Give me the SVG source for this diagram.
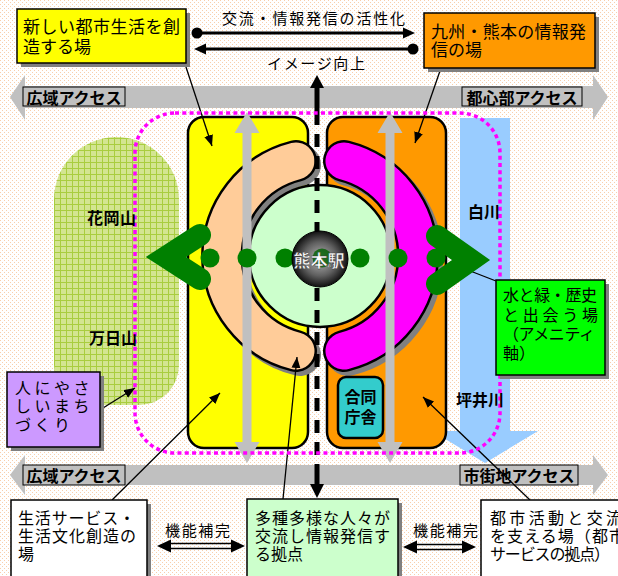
<svg xmlns="http://www.w3.org/2000/svg" width="618" height="576" viewBox="0 0 618 576">
<defs>
<pattern id="bg" width="4" height="4" patternUnits="userSpaceOnUse"><rect width="4" height="4" fill="#ffffff"/><rect x="0" y="0" width="1" height="1" fill="#f8cfac"/><rect x="2" y="2" width="1" height="1" fill="#f8cfac"/></pattern>
<pattern id="grid" width="6" height="6" patternUnits="userSpaceOnUse"><rect width="6" height="6" fill="#d3e591"/><path d="M0,0.5 H6 M0.5,0 V6" stroke="#a9cd3f" stroke-width="1"/></pattern>
<radialGradient id="dark" cx="50%" cy="50%" r="50%"><stop offset="0" stop-color="#b8b8b8"/><stop offset="0.6" stop-color="#606060"/><stop offset="1" stop-color="#101010"/></radialGradient>
<marker id="ah" markerWidth="12" markerHeight="10" refX="11" refY="4.5" orient="auto" markerUnits="userSpaceOnUse"><path d="M0,0 L11,4.5 L0,9 Z" fill="#000"/></marker>
</defs>
<style>
text{font-family:"Noto Sans CJK JP","Noto Sans CJK SC",sans-serif;dominant-baseline:central;fill:#000}
.box{stroke:#000;stroke-width:1.5}
.sh{fill:#808080}
.t16{font-size:16px}
.t17{font-size:17px}
.b{font-weight:bold}
.lead{stroke:#000;stroke-width:1.3;fill:none;marker-end:url(#ah)}
.band{fill:#c0c0c0}
.blab{fill:#c0c0c0;stroke:#000;stroke-width:1}
.gar{fill:#c0c0c0}
.out{fill:none;stroke:#000;stroke-width:42;stroke-linecap:round}
.shd{fill:none;stroke:#808080;stroke-width:42;stroke-linecap:round}
.dot{fill:#008000}
</style>
<rect width="618" height="576" fill="url(#bg)"/>

<g id="bands">
<path class="band" d="M10,97 L25,75 L25,86 L593,86 L593,75 L608,97 L593,120 L593,108 L25,108 L25,120 Z"/>
<path class="band" d="M10,475 L25,455 L25,465 L593,465 L593,455 L608,475 L593,495 L593,485 L25,485 L25,495 Z"/>
</g>
<g id="band-labels">
<rect class="blab" x="23" y="87" width="102" height="19"/>
<text class="t16 b" x="74" y="96.5" text-anchor="middle">広域アクセス</text>
<rect class="blab" x="462" y="87" width="120" height="19"/>
<text class="t16 b" x="522" y="96.5" text-anchor="middle">都心部アクセス</text>
<rect class="blab" x="23" y="465" width="102" height="20"/>
<text class="t16 b" x="74" y="475" text-anchor="middle">広域アクセス</text>
<rect class="blab" x="460" y="465" width="118" height="20"/>
<text class="t16 b" x="519" y="475" text-anchor="middle">市街地アクセス</text>
</g>

<g id="hill">
<path d="M54,199.5 A62.5,62.5 0 0 1 179,199.5 L179,365 A40,40 0 0 1 139,405 L94,405 A40,40 0 0 1 54,365 Z" fill="url(#grid)"/>
</g>
<g id="river">
<path d="M460,118 H510 V431 H538 L485,463 L432,431 H460 Z" fill="#99ccff"/>
</g>

<g id="yellow-block">
<rect x="188" y="117" width="120" height="331" rx="16" fill="#ffff00" stroke="#000" stroke-width="2.5"/>
</g>
<g id="orange-block">
<rect x="327" y="117" width="119" height="331" rx="16" fill="#ff9900" stroke="#000" stroke-width="2.5"/>
</g>

<g id="peach-band">
<path class="shd" d="M300,165 A98,98 0 0 0 300,355"/>
<path class="out" d="M296,161 A98,98 0 0 0 296,351"/>
<path d="M296,161 A98,98 0 0 0 296,351" fill="none" stroke="#ffcc99" stroke-width="37" stroke-linecap="round"/>
</g>
<g id="magenta-band">
<path class="shd" d="M348,165 A98,98 0 0 1 348,355"/>
<path class="out" d="M344,161 A98,98 0 0 1 344,351"/>
<path d="M344,161 A98,98 0 0 1 344,351" fill="none" stroke="#ff00ff" stroke-width="37" stroke-linecap="round"/>
</g>

<g id="plaza">
<circle cx="320" cy="256" r="71" fill="#ccffcc" stroke="#000" stroke-width="2.5"/>
</g>

<g id="connectors">
<path d="M317,75 L324,88 L310,88 Z" fill="#000"/>
<line x1="317" y1="87" x2="317" y2="112" stroke="#000" stroke-width="5"/>
<line x1="317" y1="112" x2="317" y2="470" stroke="#000" stroke-width="5" stroke-dasharray="13 9"/>
<line x1="317" y1="470" x2="317" y2="485" stroke="#000" stroke-width="5"/>
<path d="M317,498 L324,484 L310,484 Z" fill="#000"/>

<line x1="197" y1="33" x2="405" y2="33" stroke="#000" stroke-width="3"/>
<circle cx="197" cy="33" r="5.5" fill="#000"/>
<path d="M415,33 L403,27.5 L403,38.5 Z" fill="#000"/>
<line x1="205" y1="49" x2="413" y2="49" stroke="#000" stroke-width="3"/>
<circle cx="413" cy="49" r="5.5" fill="#000"/>
<path d="M194,49 L206,43.5 L206,54.5 Z" fill="#000"/>

<line class="lead" x1="185" y1="64" x2="212" y2="146"/>
<line class="lead" x1="441" y1="68" x2="415" y2="143"/>
<line class="lead" x1="103" y1="408" x2="135" y2="388"/>
<line class="lead" x1="112" y1="500" x2="220" y2="393"/>
<line class="lead" x1="283" y1="499" x2="297" y2="357"/>
<line class="lead" x1="530" y1="500" x2="423" y2="397"/>
<line class="lead" x1="496" y1="281" x2="460" y2="267"/>

<g id="dbl-left">
<line x1="168" y1="543.5" x2="234" y2="543.5" stroke="#000" stroke-width="1.6"/>
<line x1="168" y1="548.5" x2="234" y2="548.5" stroke="#000" stroke-width="1.6"/>
<path d="M157,546 L171,539.5 L171,552.5 Z" fill="#000"/>
<path d="M245,546 L231,539.5 L231,552.5 Z" fill="#000"/>
</g>
<g id="dbl-right">
<line x1="414" y1="544.5" x2="465" y2="544.5" stroke="#000" stroke-width="1.6"/>
<line x1="414" y1="549.5" x2="465" y2="549.5" stroke="#000" stroke-width="1.6"/>
<path d="M403,547 L417,540.5 L417,553.5 Z" fill="#000"/>
<path d="M476,547 L462,540.5 L462,553.5 Z" fill="#000"/>
</g>
</g>

<g id="access-arrows">
<path class="gar" d="M247,112 L259.5,133 L251.5,133 L251.5,442 L259.5,442 L247,463 L234.5,442 L242.5,442 L242.5,133 L234.5,133 Z"/>
<path class="gar" d="M390,112 L402.5,133 L394.5,133 L394.5,442 L402.5,442 L390,463 L377.5,442 L385.5,442 L385.5,133 L377.5,133 Z"/>
</g>

<g id="green-axis">
<polyline points="200,235 166,257 200,279" fill="none" stroke="#008000" stroke-width="22" stroke-linejoin="miter" stroke-linecap="round"/>
<polyline points="437,236 471,260 437,284" fill="none" stroke="#008000" stroke-width="22" stroke-linejoin="miter" stroke-linecap="round"/>
<circle class="dot" cx="210" cy="258" r="9.5"/>
<circle class="dot" cx="247" cy="258" r="9.5"/>
<circle class="dot" cx="285" cy="258" r="9.5"/>
<circle class="dot" cx="360" cy="258" r="9.5"/>
<circle class="dot" cx="398" cy="258" r="9.5"/>
<circle class="dot" cx="436" cy="258" r="9.5"/>
</g>

<g id="station">
<circle cx="320" cy="259" r="28" fill="url(#dark)" stroke="#000" stroke-width="1"/>
<circle cx="322" cy="258" r="9.5" fill="#006000" opacity="0.8"/>
<text class="b" x="319" y="259" text-anchor="middle" font-size="17" style="fill:#fff;stroke:#333;stroke-width:0.4">熊本駅</text>
</g>

<g id="goudou">
<rect x="338" y="377" width="45" height="61" rx="8" fill="#33cccc" stroke="#000" stroke-width="2.5"/>
<text class="t16 b" x="360.5" y="396" text-anchor="middle">合同</text>
<text class="t16 b" x="360.5" y="416" text-anchor="middle">庁舎</text>
</g>

<g id="boundary">
<rect x="135" y="113" width="365" height="340" rx="40" fill="none" stroke="#ff00ff" stroke-width="3.5" stroke-dasharray="4 3.3"/>
</g>

<g id="place-labels">
<text class="t16 b" x="87" y="217" textLength="49" lengthAdjust="spacing">花岡山</text>
<text class="t16 b" x="89" y="337" textLength="48" lengthAdjust="spacing">万日山</text>
<text class="t16 b" x="468" y="211" textLength="32" lengthAdjust="spacing">白川</text>
<text class="t16 b" x="456" y="399" textLength="48" lengthAdjust="spacing">坪井川</text>
</g>

<g id="top-texts">
<text x="222" y="17" font-size="15" textLength="183" lengthAdjust="spacing">交流・情報発信の活性化</text>
<text x="267" y="62" font-size="15" textLength="98" lengthAdjust="spacing">イメージ向上</text>
</g>

<g id="box-new-life">
<rect class="sh" x="21" y="13" width="169" height="54"/>
<rect class="box" x="17" y="9" width="169" height="54" fill="#ffff00"/>
<text class="t17" x="23" y="25" textLength="157" lengthAdjust="spacing">新しい都市生活を創</text>
<text class="t17" x="23" y="45">造する場</text>
</g>
<g id="box-kyushu">
<rect class="sh" x="428" y="17" width="171" height="55"/>
<rect class="box" x="424" y="13" width="171" height="55" fill="#ff9900"/>
<text class="t17" x="431" y="30" textLength="155" lengthAdjust="spacing">九州・熊本の情報発</text>
<text class="t17" x="431" y="48">信の場</text>
</g>
<g id="box-people">
<rect class="sh" x="11" y="376" width="93" height="75"/>
<rect class="box" x="7" y="372" width="93" height="75" fill="#cc99ff"/>
<text class="t16" x="15" y="387" letter-spacing="3.5">人にやさ</text>
<text class="t16" x="15" y="405" letter-spacing="3.5">しいまち</text>
<text class="t16" x="15" y="424" letter-spacing="3.5">づくり</text>
</g>
<g id="box-amenity">
<rect class="sh" x="500" y="284" width="109" height="95"/>
<rect class="box" x="496" y="280" width="109" height="95" fill="#00ff00"/>
<text class="t16" x="503" y="294" textLength="94" lengthAdjust="spacing">水と緑・歴史</text>
<text class="t16" x="503" y="314" textLength="95" lengthAdjust="spacing">と出会う場</text>
<text class="t16" x="503" y="333" textLength="92" lengthAdjust="spacing">（アメニティ</text>
<text class="t16" x="503" y="352">軸）</text>
</g>
<g id="box-life-service">
<rect class="sh" x="15" y="504" width="136" height="80"/>
<rect class="box" x="11" y="500" width="136" height="84" fill="#ffffff"/>
<text class="t16" x="18" y="517" textLength="117" lengthAdjust="spacing">生活サービス・</text>
<text class="t16" x="18" y="535" textLength="118" lengthAdjust="spacing">生活文化創造の</text>
<text class="t16" x="18" y="553">場</text>
</g>
<g id="box-exchange">
<rect class="sh" x="251" y="503" width="151" height="80"/>
<rect class="box" x="247" y="499" width="151" height="85" fill="#ccffcc"/>
<text class="t16" x="255" y="517" textLength="135" lengthAdjust="spacing">多種多様な人々が</text>
<text class="t16" x="255" y="535" textLength="135" lengthAdjust="spacing">交流し情報発信す</text>
<text class="t16" x="255" y="553">る拠点</text>
</g>
<g id="box-urban">
<rect class="sh" x="485" y="504" width="140" height="80"/>
<rect class="box" x="481" y="500" width="145" height="84" fill="#ffffff"/>
<text class="t16" x="490" y="517" textLength="132" lengthAdjust="spacing">都市活動と交流</text>
<text class="t16" x="490" y="535" textLength="135" lengthAdjust="spacing">を支える場（都市</text>
<text class="t16" x="490" y="553" textLength="120" lengthAdjust="spacing">サービスの拠点）</text>
</g>
<g id="func-labels">
<text x="165" y="529" font-size="15" textLength="65" lengthAdjust="spacing">機能補完</text>
<text x="413" y="529" font-size="15" textLength="65" lengthAdjust="spacing">機能補完</text>
</g>
</svg>
